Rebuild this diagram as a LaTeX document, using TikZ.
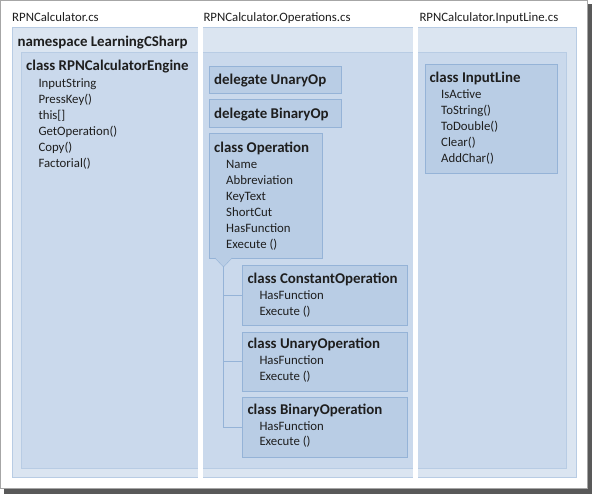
\documentclass[tikz,border=0pt]{standalone}
\usepackage{fontspec}
\setmainfont{Carlito}
\usepackage{tikz}
\usetikzlibrary{positioning}
\definecolor{nscolor}{RGB}{219,229,241}
\definecolor{nsborder}{RGB}{184,204,228}
\definecolor{innercolor}{RGB}{202,217,236}
\definecolor{boxcolor}{RGB}{185,205,229}
\definecolor{boxborder}{RGB}{149,179,215}
\definecolor{textcolor}{RGB}{30,30,30}

\begin{document}
\begin{tikzpicture}[x=1pt, y=-1pt, text=textcolor]
    % Define the styles for the regions, class boxes and texts
    % (a members node sits on the baseline of its last line)
    \tikzstyle{region} = [draw=nsborder, fill=nscolor, anchor=north west, inner sep=0pt]
    \tikzstyle{classbox} = [draw=boxborder, fill=boxcolor, anchor=north west, inner sep=0pt]
    \tikzstyle{title} = [anchor=base west, inner sep=0pt, font=\fontsize{14.9}{16}\selectfont\bfseries]
    \tikzstyle{members} = [anchor=base west, inner sep=0pt, align=left, font=\fontsize{12.8}{16}\selectfont]
    \tikzstyle{filename} = [anchor=base west, inner sep=0pt, font=\fontsize{12.8}{16}\selectfont]

    % Screenshot frame with its shadow
    \fill[black!65] (4,4) rectangle (592,494);
    \draw[black!35, fill=white] (0.5,0.5) rectangle (587.5,488.5);
    \useasboundingbox (0,0) rectangle (592,494);

    % File names
    \node[filename] (file1) at (12,21.5) {RPNCalculator.cs};
    \node[filename] (file2) at (203.3,21.5) {RPNCalculator.Operations.cs};
    \node[filename] (file3) at (419.3,21.5) {RPNCalculator.InputLine.cs};

    % Namespace and its inner area
    \node[region, minimum width=564, minimum height=450] (ns) at (12,27) {};
    \node[region, fill=innercolor, minimum width=545, minimum height=416] (nsbody) at (21,52) {};
    \node[title] (nstitle) at (17.3,46.3) {namespace LearningCSharp};

    % White gaps between the files
    \fill[white] (198,26) rectangle (203,478);
    \fill[white] (413,26) rectangle (418,478);

    % RPNCalculator.cs
    \node[title] (engine) at (26,71) {class RPNCalculatorEngine};
    \node[members] (enginemembers) at (38.3,167.3) {InputString\\PressKey()\\this[]\\GetOperation()\\Copy()\\Factorial()};

    % RPNCalculator.Operations.cs
    \node[classbox, minimum width=132, minimum height=27] (unary) at (209,66) {};
    \node[title] (unarytitle) at (214,84.3) {delegate UnaryOp};
    \node[classbox, minimum width=132, minimum height=28] (binary) at (209,99.5) {};
    \node[title] (binarytitle) at (214,118.3) {delegate BinaryOp};

    \node[classbox, minimum width=113, minimum height=125] (op) at (209,133) {};
    \node[title] (optitle) at (214,152.3) {class Operation};
    \node[members] (opmembers) at (226,248.3) {Name\\Abbreviation\\KeyText\\ShortCut\\HasFunction\\Execute ()};

    \node[classbox, minimum width=165, minimum height=60] (cop) at (242,265) {};
    \node[title] (coptitle) at (247.3,283.5) {class ConstantOperation};
    \node[members] (copmembers) at (259.3,315.3) {HasFunction\\Execute ()};

    \node[classbox, minimum width=165, minimum height=59] (uop) at (242,332) {};
    \node[title] (uoptitle) at (247.3,348.3) {class UnaryOperation};
    \node[members] (uopmembers) at (259.3,380.3) {HasFunction\\Execute ()};

    \node[classbox, minimum width=165, minimum height=60] (bop) at (242,397) {};
    \node[title] (boptitle) at (247.3,414) {class BinaryOperation};
    \node[members] (bopmembers) at (259.3,446) {HasFunction\\Execute ()};

    % Inheritance from class Operation
    \coordinate (gen) at (223.5,267);
    \draw[boxborder, fill=boxcolor] (215,258) -- (gen) -- (232,258);
    \draw[boxborder] (gen) |- (cop.west);
    \draw[boxborder] (gen) |- (uop.west);
    \draw[boxborder] (gen) |- (bop.west);

    % RPNCalculator.InputLine.cs
    \node[classbox, minimum width=132, minimum height=109] (input) at (425,64) {};
    \node[title] (inputtitle) at (429.3,82.7) {class InputLine};
    \node[members] (inputmembers) at (441,163) {IsActive\\ToString()\\ToDouble()\\Clear()\\AddChar()};
\end{tikzpicture}
\end{document}
